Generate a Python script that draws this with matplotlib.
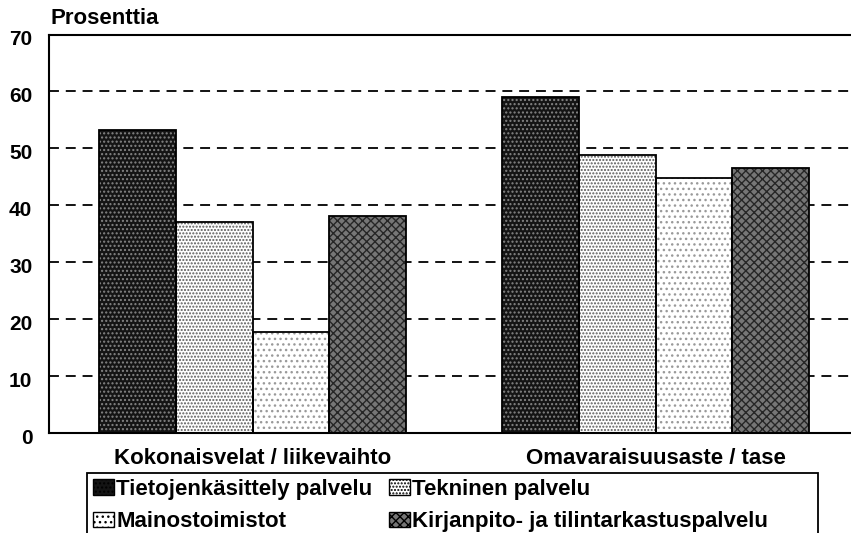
import matplotlib
matplotlib.use('Agg')
import matplotlib.pyplot as plt
import matplotlib.transforms as mtransforms
import numpy as np
from matplotlib.patches import Patch, Rectangle

categories = ['Kokonaisvelat / liikevaihto', 'Omavaraisuusaste / tase']
series_names = ['Tietojenkäsittely palvelu', 'Tekninen palvelu',
                'Mainostoimistot', 'Kirjanpito- ja tilintarkastuspalvelu']
tieto = [53.2, 59.0]
tekninen = [37.0, 48.8]
mainos = [17.7, 44.8]
kirjanpito = [38.1, 46.5]
y_ticks = [0, 10, 20, 30, 40, 50, 60, 70]
y_title = 'Prosenttia'

series = [tieto, tekninen, mainos, kirjanpito]
faces = ['#141414', '#ffffff', '#ffffff', '#767676']
hatch_cols = ['#858585', '#5a5a5a', '#9a9a9a', '#262626']
hatches = ['....', '.....', '...', 'xxxx']

plt.rcParams['font.family'] = ['Liberation Sans', 'DejaVu Sans']
plt.rcParams['hatch.linewidth'] = 1.0

W, H = 851, 533
fig = plt.figure(figsize=(W / 100, H / 100), dpi=100)
ax_left, ax_right, ax_top, ax_bot = 49, 857, 34.5, 433
ax = fig.add_axes([ax_left / W, 1 - ax_bot / H, (ax_right - ax_left) / W, (ax_bot - ax_top) / H])

x = np.arange(len(categories))
bw = 0.19
offsets = (np.arange(4) - 1.5) * bw
handles = []
for i, vals in enumerate(series):
    ax.bar(x + offsets[i], vals, bw, color=faces[i], hatch=hatches[i],
           edgecolor=hatch_cols[i], linewidth=0, zorder=2)
    ax.bar(x + offsets[i], vals, bw, fill=False, edgecolor='black',
           linewidth=1.3, zorder=3)
    handles.append(Patch(facecolor=faces[i], hatch=hatches[i],
                         edgecolor='black', linewidth=1.0))

ax.set_xlim(-0.505, 1.5)
ax.set_ylim(0, 70)
ax.set_yticks(y_ticks)
ax.set_yticklabels([str(t) for t in y_ticks], fontsize=15, fontweight='bold')
ax.tick_params(axis='y', length=0, pad=12)
shift = mtransforms.ScaledTranslation(0, -3 / 100, fig.dpi_scale_trans)
for lab in ax.get_yticklabels():
    lab.set_transform(lab.get_transform() + shift)
ax.set_xticks(x)
ax.set_xticklabels(categories, fontsize=16, fontweight='bold')
ax.tick_params(axis='x', length=0, pad=11)

ax.grid(axis='y', color='black', linestyle=(0, (5.5, 3.8)), linewidth=1.3, zorder=1)
ax.set_axisbelow(True)
for s in ['left', 'bottom', 'top']:
    ax.spines[s].set_linewidth(1.5)
    ax.spines[s].set_color('black')
ax.spines['right'].set_visible(False)

fig.text(50 / W, 1 - 18 / H, y_title, fontsize=16, fontweight='bold', va='center', ha='left')

# legend box (frame drawn separately, as in the original it extends past the text)
fig.patches.append(Rectangle((87 / W, -0.05), (818 - 87) / W, 0.05 + 1 - 473 / H,
                             transform=fig.transFigure, fill=False,
                             edgecolor='black', linewidth=1.3, zorder=5))
order = [0, 2, 1, 3]
leg = fig.legend([handles[k] for k in order], [series_names[k] for k in order],
                 ncol=2, loc='upper left', bbox_to_anchor=(93 / W, 1 - 479 / H),
                 borderaxespad=0, frameon=False,
                 prop={'size': 16, 'weight': 'bold'},
                 handlelength=0.95, handleheight=0.7, handletextpad=0.1,
                 columnspacing=0.75, labelspacing=0.5, borderpad=0)

fig.savefig('out.png', dpi=100)
